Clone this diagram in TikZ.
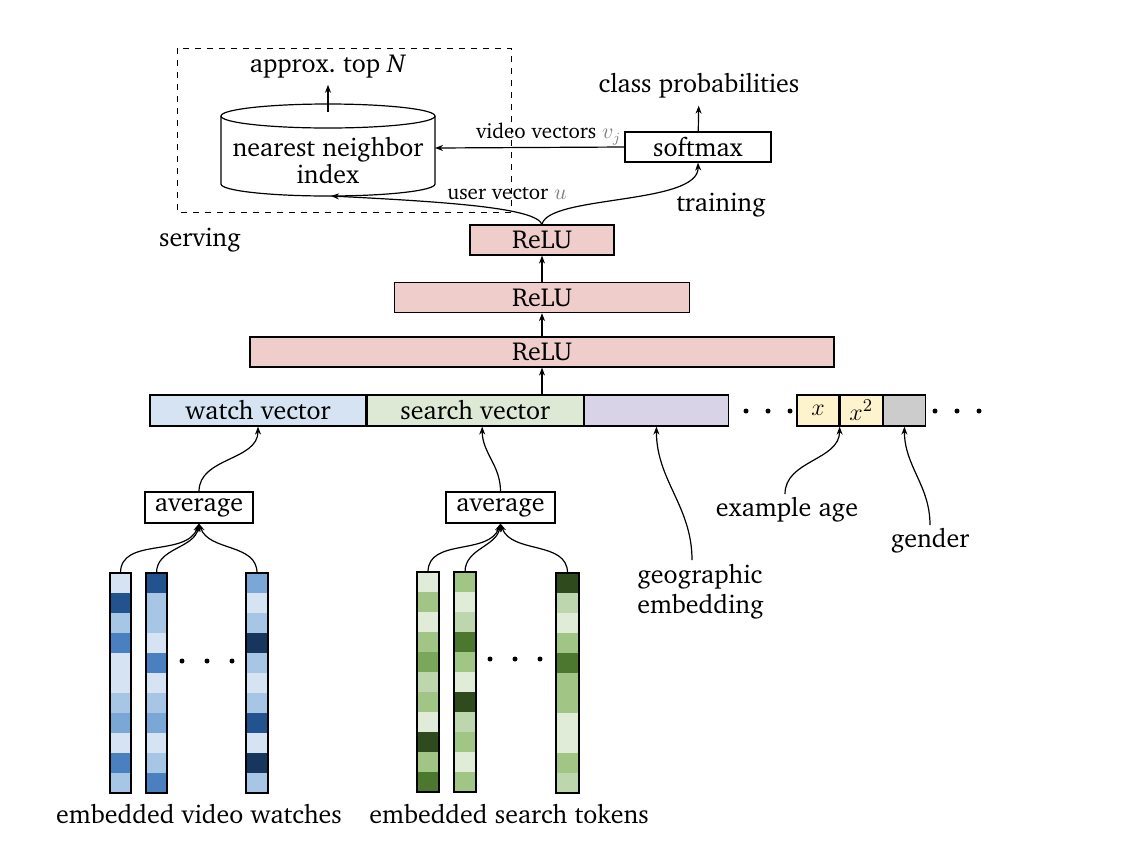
\documentclass[tikz,border=0pt]{standalone}
\usepackage[T1]{fontenc}
\usepackage{charter}
\usetikzlibrary{arrows.meta,positioning}
\definecolor{watchfill}{HTML}{D5E3F2}
\definecolor{searchfill}{HTML}{DDE9D5}
\definecolor{geofill}{HTML}{D9D3E8}
\definecolor{relufill}{HTML}{EECDCB}
\definecolor{agefill}{HTML}{FDF3CC}
\definecolor{genderfill}{HTML}{CCCCCC}
\definecolor{bA}{HTML}{D5E3F2}
\definecolor{bB}{HTML}{A7C5E4}
\definecolor{bC}{HTML}{7BA7D7}
\definecolor{bD}{HTML}{4A7FC0}
\definecolor{bE}{HTML}{23538F}
\definecolor{bF}{HTML}{17365E}
\definecolor{gA}{HTML}{E0ECD8}
\definecolor{gB}{HTML}{A0C585}
\definecolor{gC}{HTML}{BDD6AD}
\definecolor{gD}{HTML}{4B772E}
\definecolor{gE}{HTML}{2F4A1D}
\definecolor{gF}{HTML}{7AA85A}
\newcommand{\embcol}[4]{% x, top, width, colours
  \foreach \c [count=\i] in {#4}
    \fill[\c] (#1, #2+20*\i-20) rectangle ++(#3, 20);
  \draw (#1, #2) rectangle ++(#3, 220);}

\begin{document}
\begin{tikzpicture}[x=0.5pt, y=-0.5pt, line width=0.6pt,
    font=\fontsize{13}{15}\selectfont,
    >={Stealth[length=4pt,width=3pt]},
    box/.style={draw, inner sep=0pt, minimum height=15pt},
    relubox/.style={box, fill=relufill},
    lbl/.style={font=\fontsize{10.5}{12}\selectfont, inner sep=1pt}]
    %%%%% START %%%%%
    \useasboundingbox (0,0) rectangle (1128,842);

    % serving
    \draw[dashed, line width=0.5pt] (177,48) rectangle (511,212);
    \node (topn) at (328,66) {approx.\ top \textit{N}};
    \draw (221,116) -- (221,184) arc (180:0:107 and 12) -- (435,116);
    \draw (328,116) ellipse (107 and 12);
    \node[align=center, inner sep=0pt, font=\fontsize{13}{13.5}\selectfont] (nnindex) at (328,161) {nearest neighbor\\index};
    \coordinate (nnbottom) at (331,196);
    \coordinate (nnright) at (435,148);
    \coordinate (nntop) at (328,112);
    \draw[->] (nntop) -- (topn);
    \node (serving) at (200,240) {serving};

    % training
    \node[box, minimum width=73pt] (softmax) at (698,147) {softmax};
    \node (classprob) at (699,86) {class probabilities};
    \node (training) at (721,205) {training};
    \draw[->] (softmax) -- (classprob);
    \draw[->] (softmax.west) -- node[lbl, above, pos=0.4] {video vectors \textcolor{gray}{$v_j$}} (nnright);

    % ReLU stack
    \node[relubox, minimum width=72pt] (reluA) at (542,240) {ReLU};
    \node[relubox, minimum width=147.5pt] (reluB) at (542,297.5) {ReLU};
    \node[relubox, minimum width=292pt] (reluC) at (542,352) {ReLU};
    \draw[->] (reluB) -- (reluA);
    \draw[->] (reluC) -- (reluB);
    \draw[->] (reluA.north) .. controls (536,208) and (450,202) .. (nnbottom);
    \draw[->] (reluA.north) .. controls (548,195) and (699,205) .. (softmax.south);
    \node[lbl] (uservec) at (507,194) {user vector \textcolor{gray}{$u$}};

    % input layer
    \node[box, fill=watchfill, minimum width=108pt, minimum height=15.5pt] (watch) at (258,410.5) {watch vector};
    \node[box, fill=searchfill, minimum width=108pt, minimum height=15.5pt, right=0pt of watch] (search) {search vector};
    \node[box, fill=geofill, minimum width=72pt, minimum height=15.5pt, right=0pt of search] (geo) {};
    \node[box, fill=agefill, minimum width=21pt, minimum height=15.5pt] (agex) at (818,410.5) {$x$};
    \node[box, fill=agefill, minimum width=21pt, minimum height=15.5pt, right=0pt of agex] (agesq) {$x^2$};
    \node[box, fill=genderfill, minimum width=21pt, minimum height=15.5pt, right=0pt of agesq] (gender) {};
    \draw[->] (reluC.south |- search.north) -- (reluC.south);
    \foreach \x in {746,768,790,935,957,979}
      \fill (\x,411) circle (2.5);

    % features
    \node[box, minimum width=54pt, minimum height=15.5pt] (avgwatch) at (199,507.5) {average};
    \node[box, minimum width=54.5pt, minimum height=15.5pt] (avgsearch) at (500.5,507.5) {average};
    \draw[->] (avgwatch.north) to[out=90, in=-90] (watch.south);
    \draw[->] (avgsearch.north) to[out=90, in=-90] ([xshift=3.5pt]search.south);
    \node[align=left, anchor=west, font=\fontsize{13}{15}\selectfont] (geotext) at (630,592) {geographic\\embedding};
    \coordinate (geoend) at (692,560);
    \draw[->] (geoend) to[out=90, in=-90] (geo.south);
    \node (agetext) at (787,510) {example age};
    \coordinate (ageend) at (785,494);
    \draw[->] (ageend) to[out=90, in=-90] (agex.south east);
    \node (gendertext) at (930,541) {gender};
    \coordinate (genderend) at (930,525);
    \draw[->] (genderend) to[out=90, in=-90] (gender.south);

    % embedded video watches
    \embcol{110}{573}{21}{bA,bE,bB,bD,bA,bA,bB,bC,bA,bD,bB}
    \embcol{146}{573}{21}{bE,bB,bB,bA,bD,bA,bB,bC,bA,bB,bD}
    \embcol{246}{573}{22}{bC,bA,bB,bF,bB,bA,bB,bE,bA,bF,bB}
    \foreach \x in {182,207,232}
      \fill (\x,661) circle (2.5);
    \coordinate (wA) at (120.5,573);
    \coordinate (wB) at (156.5,573);
    \coordinate (wC) at (257,573);
    \foreach \p/\a in {wA/-110,wB/-100,wC/-70}
      \draw[->] (\p) to[out=90, in=\a] (avgwatch.south);
    \node (watchtext) at (199,814) {embedded video watches};

    % embedded search tokens
    \embcol{417}{572}{22}{gA,gB,gA,gB,gF,gC,gB,gA,gE,gB,gD}
    \embcol{454}{572}{22}{gB,gA,gC,gD,gB,gA,gE,gC,gB,gA,gB}
    \embcol{556}{573}{23}{gE,gC,gA,gB,gD,gB,gB,gA,gA,gB,gC}
    \foreach \x in {490,515,540}
      \fill (\x,659) circle (2.5);
    \coordinate (sA) at (428,572);
    \coordinate (sB) at (465,572);
    \coordinate (sC) at (567.5,573);
    \foreach \p/\a in {sA/-110,sB/-100,sC/-70}
      \draw[->] (\p) to[out=90, in=\a] (avgsearch.south);
    \node (searchtext) at (509,814) {embedded search tokens};
    %%%%% END %%%%%
\end{tikzpicture}
\end{document}
